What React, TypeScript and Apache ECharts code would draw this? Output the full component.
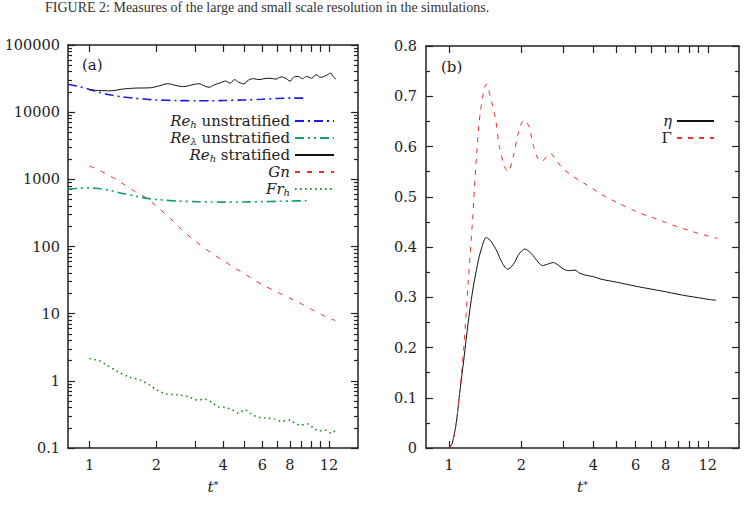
import React, { useEffect, useRef } from 'react';
import * as echarts from 'echarts';

// ---------- data: panel (a) ----------
const reHUnstratified: [number, number][] = [
  [0.8, 26000], [0.9, 24000], [1.0, 21800], [1.1, 19800], [1.25, 18000], [1.4, 16900],
  [1.6, 16100], [1.8, 15600], [2.0, 15200], [2.5, 14900], [3.0, 14800], [3.5, 14800],
  [4.0, 14900], [5.0, 15200], [6.0, 15600], [7.0, 16000], [8.0, 16200], [9.0, 16200], [9.5, 16200],
];
const reLambdaUnstratified: [number, number][] = [
  [0.8, 710], [0.9, 735], [1.0, 745], [1.1, 730], [1.25, 680], [1.4, 620], [1.6, 565],
  [1.8, 525], [2.0, 500], [2.5, 475], [3.0, 465], [3.5, 460], [4.0, 458], [5.0, 460],
  [6.0, 465], [7.0, 470], [8.0, 475], [9.5, 480],
];
const reHStratified: [number, number][] = [
  [1.0, 21500], [1.1, 21000], [1.25, 20800], [1.4, 22000], [1.6, 22800], [1.85, 23000],
  [2.05, 24500], [2.25, 26500], [2.45, 25000], [2.65, 24000], [2.9, 25500], [3.1, 26500],
  [3.3, 24500], [3.45, 23500], [3.65, 25500], [3.9, 27500], [4.1, 29000], [4.3, 27000],
  [4.5, 30500], [4.7, 28000], [4.95, 26500], [5.2, 30000], [5.5, 31500], [5.8, 30500],
  [6.1, 31500], [6.5, 32000], [6.9, 31000], [7.3, 33500], [7.7, 31500], [8.0, 29000],
  [8.3, 33000], [8.7, 34000], [9.1, 31500], [9.5, 34000], [10.0, 32000], [10.5, 36000],
  [11.0, 33000], [11.6, 35000], [12.2, 38000], [12.5, 34000], [12.9, 31000],
];
const gn: [number, number][] = [
  [1.0, 1580], [1.1, 1380], [1.25, 1100], [1.4, 880], [1.6, 660], [1.8, 530], [2.0, 400],
  [2.3, 265], [2.7, 160], [3.0, 120], [3.5, 82], [4.0, 62], [4.5, 48], [5.0, 39], [5.5, 32],
  [6.0, 27], [7.0, 21], [8.0, 17], [9.0, 14], [10.0, 11.6], [11.0, 9.8], [12.0, 8.6], [12.8, 7.9],
];
const frH: [number, number][] = [
  [1.0, 2.15], [1.1, 2.0], [1.2, 1.7], [1.35, 1.35], [1.5, 1.15], [1.7, 1.02], [1.85, 0.88],
  [2.0, 0.74], [2.2, 0.64], [2.5, 0.62], [2.8, 0.58], [3.05, 0.52], [3.35, 0.53], [3.6, 0.46],
  [3.8, 0.41], [4.1, 0.4], [4.4, 0.37], [4.7, 0.33], [5.0, 0.37], [5.3, 0.33], [5.7, 0.29],
  [6.2, 0.28], [6.8, 0.27], [7.3, 0.25], [8.0, 0.26], [8.5, 0.23], [9.0, 0.22], [9.5, 0.23],
  [10.2, 0.2], [10.8, 0.18], [11.5, 0.185], [12.3, 0.165], [12.9, 0.19],
];

// ---------- data: panel (b) ----------
const eta: [number, number][] = [
  [1.0, 0], [1.03, 0.01], [1.07, 0.05], [1.1, 0.1], [1.15, 0.175], [1.2, 0.25], [1.25, 0.31],
  [1.3, 0.355], [1.35, 0.39], [1.43, 0.419], [1.5, 0.41], [1.58, 0.392], [1.65, 0.372],
  [1.75, 0.356], [1.85, 0.365], [1.95, 0.385], [2.07, 0.396], [2.2, 0.387], [2.35, 0.37],
  [2.45, 0.363], [2.58, 0.366], [2.72, 0.369], [2.85, 0.364], [3.0, 0.356], [3.15, 0.353],
  [3.35, 0.354], [3.5, 0.348], [3.7, 0.344], [4.0, 0.341], [4.3, 0.336], [5.0, 0.33],
  [6.0, 0.322], [7.0, 0.316], [8.0, 0.311], [9.0, 0.306], [10.0, 0.302], [11.0, 0.299],
  [12.0, 0.296], [13.0, 0.294],
];
const gamma: [number, number][] = [
  [1.0, 0], [1.03, 0.01], [1.07, 0.05], [1.1, 0.1], [1.15, 0.2], [1.2, 0.33], [1.25, 0.45],
  [1.3, 0.58], [1.35, 0.67], [1.43, 0.724], [1.5, 0.69], [1.56, 0.655], [1.62, 0.6],
  [1.7, 0.56], [1.76, 0.55], [1.85, 0.58], [1.95, 0.63], [2.05, 0.653], [2.15, 0.64],
  [2.25, 0.6], [2.35, 0.575], [2.43, 0.57], [2.55, 0.58], [2.65, 0.586], [2.8, 0.572],
  [3.0, 0.555], [3.3, 0.54], [3.65, 0.527], [4.0, 0.515], [4.5, 0.5], [5.0, 0.489],
  [6.0, 0.471], [7.0, 0.459], [8.0, 0.449], [9.0, 0.44], [10.0, 0.433], [11.0, 0.427],
  [12.0, 0.422], [13.2, 0.417],
];

// ---------- ticks ----------
const X_MIN = 0.8;
const X_MAX = 16.2;
const xTickValues = [1, 2, 3, 4, 5, 6, 7, 8, 9, 10, 11, 12];
const xLabelValues = [1, 2, 4, 6, 8, 12];
const yLogLabels = [0.1, 1, 10, 100, 1000, 10000, 100000];
const yLogMinorMultipliers = [2, 3, 4, 5, 6, 7, 8, 9];

const FONT = '"DejaVu Serif", "Liberation Serif", serif';
const CAPTION_FONT = '"Liberation Serif", serif';
const TXT = '#222';
const L = (v: number) => Math.log10(v);

const yLogMinor: number[] = [];
yLogLabels.slice(0, -1).forEach((d) => yLogMinorMultipliers.forEach((m) => yLogMinor.push(L(d * m))));

const legendRich = {
  m: { fontStyle: 'italic', fontFamily: FONT, fontSize: 15, lineHeight: 16, color: TXT },
  r: { fontFamily: FONT, fontSize: 15, lineHeight: 16, color: TXT },
  s: { fontStyle: 'italic', fontFamily: FONT, fontSize: 10, lineHeight: 10, color: TXT, padding: [6, 0, 0, 0] },
};
const legendLabels: Record<string, string> = {
  'Re_h unstratified': '{m|Re}{s|h}{r| unstratified}',
  'Re_λ unstratified': '{m|Re}{s|λ}{r| unstratified}',
  'Re_h stratified': '{m|Re}{s|h}{r| stratified}',
  'Gn': '{m|Gn}',
  'Fr_h': '{m|Fr}{s|h}',
  'η': '{m|η}',
  'Γ': '{r|Γ}',
};

function makeLegend(name: string, right: number, top: number, width: number) {
  return {
    data: [name],
    orient: 'vertical',
    align: 'right',
    right,
    top,
    padding: 0,
    itemGap: 0,
    itemWidth: width,
    itemHeight: 12,
    selectedMode: false,
    itemStyle: { color: 'transparent', borderColor: 'transparent', borderWidth: 0 },
    formatter: (n: string) => legendLabels[n] || n,
    textStyle: { fontFamily: FONT, fontSize: 15, lineHeight: 16, color: TXT, rich: legendRich },
  };
}

const axisLineStyle = { color: TXT, width: 1.5 };
const tickLineStyle = { color: TXT, width: 1.2 };
const labelStyle = { fontFamily: FONT, fontSize: 14.5, color: TXT };

function xOverlay(grid: number, position: 'bottom' | 'top', withLabels: boolean) {
  return {
    type: 'value',
    gridIndex: grid,
    position,
    min: L(X_MIN),
    max: L(X_MAX),
    axisLine: { show: true, onZero: false, lineStyle: axisLineStyle },
    axisTick: { show: true, inside: true, length: 7, customValues: xTickValues.map(L), lineStyle: tickLineStyle },
    axisLabel: withLabels
      ? { show: true, customValues: xLabelValues.map(L), formatter: (v: number) => String(Math.round(Math.pow(10, v))), margin: 9, ...labelStyle }
      : { show: false },
    splitLine: { show: false },
    name: withLabels ? '{i|t}{s|*}' : '',
    nameLocation: 'middle',
    nameGap: 31,
    nameTextStyle: {
      rich: {
        i: { fontStyle: 'italic', fontFamily: FONT, fontSize: 15, color: TXT },
        s: { fontFamily: FONT, fontSize: 10, color: TXT, verticalAlign: 'top', padding: [0, 0, 6, 0] },
      },
    },
  };
}

function yLogOverlay(position: 'left' | 'right', minor: boolean, withLabels: boolean) {
  return {
    type: 'value',
    gridIndex: 0,
    position,
    min: -1,
    max: 5,
    axisLine: { show: !minor, onZero: false, lineStyle: axisLineStyle },
    axisTick: {
      show: true,
      inside: true,
      length: minor ? 4 : 7,
      customValues: minor ? yLogMinor : yLogLabels.map(L),
      lineStyle: tickLineStyle,
    },
    axisLabel: withLabels
      ? { show: true, customValues: yLogLabels.map(L), formatter: (v: number) => String(Number(Math.pow(10, v).toPrecision(6))), margin: 8, ...labelStyle }
      : { show: false },
    splitLine: { show: false },
  };
}

function yLin(position: 'left' | 'right', withLabels: boolean) {
  return {
    type: 'value',
    gridIndex: 1,
    position,
    min: 0,
    max: 0.8,
    interval: 0.1,
    axisLine: { show: true, onZero: false, lineStyle: axisLineStyle },
    axisTick: { show: true, inside: true, length: 7, lineStyle: tickLineStyle },
    minorTick: { show: true, splitNumber: 2, length: 4, lineStyle: tickLineStyle },
    axisLabel: withLabels ? { show: true, margin: 9, ...labelStyle } : { show: false },
    splitLine: { show: false },
    minorSplitLine: { show: false },
  };
}

export default function App() {
  const ref = useRef<HTMLDivElement>(null);
  useEffect(() => {
    if (!ref.current) return;
    const chart = echarts.init(ref.current, undefined, { renderer: 'svg' });
    const option: any = {
      animation: false,
      backgroundColor: '#fff',
      grid: [
        { left: 68, top: 45, width: 290, height: 403 },
        { left: 426, top: 46, width: 313, height: 402 },
      ],
      xAxis: [
        { type: 'log', gridIndex: 0, min: X_MIN, max: X_MAX, show: false },
        xOverlay(0, 'bottom', true),
        xOverlay(0, 'top', false),
        { type: 'log', gridIndex: 1, min: X_MIN, max: X_MAX, show: false },
        xOverlay(1, 'bottom', true),
        xOverlay(1, 'top', false),
      ],
      yAxis: [
        { type: 'log', gridIndex: 0, min: 0.1, max: 100000, show: false },
        yLogOverlay('left', false, true),
        yLogOverlay('left', true, false),
        yLogOverlay('right', false, false),
        yLogOverlay('right', true, false),
        yLin('left', true),
        yLin('right', false),
      ],
      legend: [
        makeLegend('Re_h unstratified', 411, 113, 39),
        makeLegend('Re_λ unstratified', 411, 130, 39),
        makeLegend('Re_h stratified', 411, 147, 39),
        makeLegend('Gn', 411, 164, 39),
        makeLegend('Fr_h', 411, 181, 39),
        makeLegend('η', 31, 113, 37),
        makeLegend('Γ', 31, 130, 37),
      ],
      graphic: [
        {
          type: 'text', x: 45, y: 0,
          style: { text: 'FIGURE 2: Measures of the large and small scale resolution in the simulations.', font: `14px ${CAPTION_FONT}`, fill: '#333' },
        },
        { type: 'text', x: 82, y: 57, style: { text: '(a)', font: `15px ${FONT}`, fill: TXT } },
        { type: 'text', x: 441, y: 59, style: { text: '(b)', font: `15px ${FONT}`, fill: TXT } },
      ],
      series: [
        {
          name: 'Re_h unstratified', type: 'line', xAxisIndex: 0, yAxisIndex: 0, data: reHUnstratified,
          symbol: 'none', smooth: 0.3, itemStyle: { color: '#1c1ce0' },
          lineStyle: { color: '#1c1ce0', width: 1.6, type: [9, 4, 2, 4] },
        },
        {
          name: 'Re_λ unstratified', type: 'line', xAxisIndex: 0, yAxisIndex: 0, data: reLambdaUnstratified,
          symbol: 'none', smooth: 0.3, itemStyle: { color: '#139a78' },
          lineStyle: { color: '#139a78', width: 1.6, type: [9, 4, 2, 4, 2, 4] },
        },
        {
          name: 'Re_h stratified', type: 'line', xAxisIndex: 0, yAxisIndex: 0, data: reHStratified,
          symbol: 'none', smooth: 0.4, itemStyle: { color: '#111' },
          lineStyle: { color: '#111', width: 1 },
        },
        {
          name: 'Gn', type: 'line', xAxisIndex: 0, yAxisIndex: 0, data: gn,
          symbol: 'none', smooth: 0.3, itemStyle: { color: '#ee3030' },
          lineStyle: { color: '#ee3030', width: 1, type: [5, 7] },
        },
        {
          name: 'Fr_h', type: 'line', xAxisIndex: 0, yAxisIndex: 0, data: frH,
          symbol: 'none', smooth: 0.3, itemStyle: { color: '#1e961e' },
          lineStyle: { color: '#1e961e', width: 1.6, type: [1.6, 3.4] },
        },
        {
          name: 'η', type: 'line', xAxisIndex: 3, yAxisIndex: 5, data: eta,
          symbol: 'none', smooth: 0.3, itemStyle: { color: '#111' },
          lineStyle: { color: '#111', width: 1 },
        },
        {
          name: 'Γ', type: 'line', xAxisIndex: 3, yAxisIndex: 5, data: gamma,
          symbol: 'none', smooth: 0.3, itemStyle: { color: '#ee3030' },
          lineStyle: { color: '#ee3030', width: 1, type: [5, 6] },
        },
      ],
    };
    chart.setOption(option);
    return () => chart.dispose();
  }, []);
  return <div ref={ref} style={{ position: 'absolute', left: 0, top: 0, width: 746, height: 518 }} />;
}
